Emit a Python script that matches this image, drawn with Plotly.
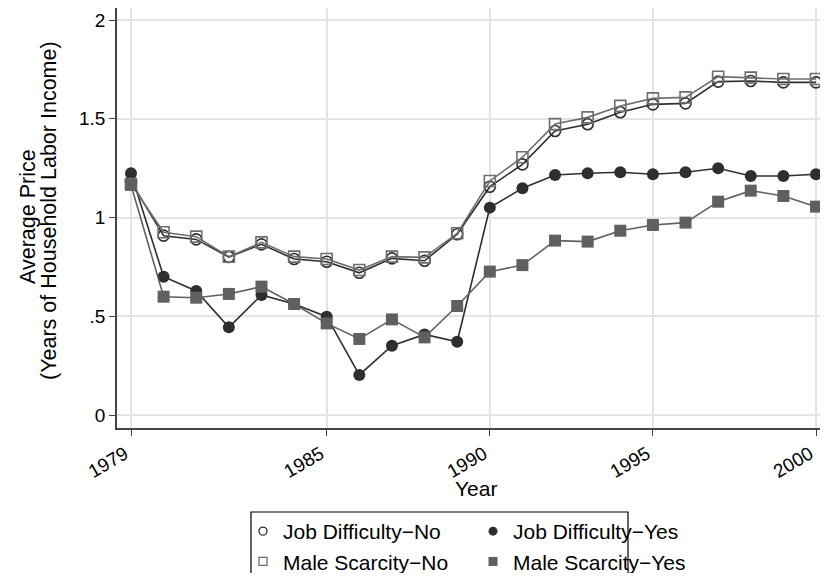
import plotly.graph_objects as go

years = list(range(1979, 2001))
job_no = [1.18, 0.908, 0.889, 0.80, 0.864, 0.79, 0.776, 0.72, 0.793, 0.781, 0.915,
          1.156, 1.269, 1.438, 1.472, 1.533, 1.573, 1.578, 1.688, 1.691, 1.684, 1.684]
job_yes = [1.224, 0.700, 0.628, 0.444, 0.608, 0.562, 0.498, 0.203, 0.351, 0.408, 0.371,
           1.05, 1.148, 1.215, 1.224, 1.229, 1.219, 1.229, 1.249, 1.21, 1.21, 1.219]
male_no = [1.17, 0.925, 0.903, 0.802, 0.874, 0.802, 0.79, 0.734, 0.802, 0.798, 0.92,
           1.185, 1.305, 1.473, 1.507, 1.565, 1.603, 1.608, 1.713, 1.708, 1.701, 1.701]
male_yes = [1.165, 0.599, 0.594, 0.613, 0.650, 0.562, 0.464, 0.385, 0.484, 0.393, 0.552,
            0.726, 0.759, 0.883, 0.878, 0.933, 0.962, 0.974, 1.08, 1.136, 1.109, 1.055]

x_tickvals = [1979, 1985, 1990, 1995, 2000]
y_tickvals = [0, 0.5, 1, 1.5, 2]
y_ticktext = ["0", ".5", "1", "1.5", "2"]

DARK = "#2e2e2e"
GRAY = "#606060"
GRAY_OUT = "#6e6e6e"
FONT = "Liberation Sans, Arial, sans-serif"

# page body adds an 8px offset; plot area spans screen x 117..820, y 8..428
W, H = 812, 565
PL, PR, PT, PB = 117, 820, 8, 428
X_SCALE = (816 - 131) / 21  # px per year


def px(x):
    return (x - PL) / (PR - PL)


def py(y):
    return (PB - y) / (PB - PT)


fig = go.Figure()

fig.add_trace(go.Scatter(x=years, y=job_no, mode="lines+markers", showlegend=False, cliponaxis=False,
                         line=dict(color=DARK, width=1.6),
                         marker=dict(symbol="circle-open", size=11, color=DARK, line=dict(width=1.6, color=DARK))))
fig.add_trace(go.Scatter(x=years, y=job_yes, mode="lines+markers", showlegend=False, cliponaxis=False,
                         line=dict(color=DARK, width=1.6),
                         marker=dict(symbol="circle", size=12, color=DARK)))
fig.add_trace(go.Scatter(x=years, y=male_no, mode="lines+markers", showlegend=False, cliponaxis=False,
                         line=dict(color=GRAY_OUT, width=1.6),
                         marker=dict(symbol="square-open", size=11, color=GRAY_OUT, line=dict(width=1.6, color=GRAY_OUT))))
fig.add_trace(go.Scatter(x=years, y=male_yes, mode="lines+markers", showlegend=False, cliponaxis=False,
                         line=dict(color=GRAY, width=1.6),
                         marker=dict(symbol="square", size=12, color=GRAY)))

# legend entries (markers only, small), two single-column legends
fig.add_trace(go.Scatter(x=[None], y=[None], mode="markers", name="Job Difficulty\u2212No",
                         legend="legend", legendgroup="a",
                         marker=dict(symbol="circle-open", size=8, color=DARK, line=dict(width=1.3, color=DARK))))
fig.add_trace(go.Scatter(x=[None], y=[None], mode="markers", name="Male Scarcity\u2212No",
                         legend="legend", legendgroup="b",
                         marker=dict(symbol="square-open", size=8, color=GRAY_OUT, line=dict(width=1.3, color=GRAY_OUT))))
fig.add_trace(go.Scatter(x=[None], y=[None], mode="markers", name="Job Difficulty\u2212Yes",
                         legend="legend2", legendgroup="c",
                         marker=dict(symbol="circle", size=9, color=DARK)))
fig.add_trace(go.Scatter(x=[None], y=[None], mode="markers", name="Male Scarcity\u2212Yes",
                         legend="legend2", legendgroup="d",
                         marker=dict(symbol="square", size=9, color=GRAY)))

legend_common = dict(orientation="v", xanchor="left", yanchor="top",
                     borderwidth=0, bgcolor="rgba(0,0,0,0)",
                     font=dict(family=FONT, size=21, color="black"),
                     itemsizing="trace", tracegroupgap=0)

fig.update_layout(
    width=W, height=H,
    margin=dict(l=PL - 8, r=W - (PR - 8), t=PT - 8, b=H - (PB - 8), pad=0, autoexpand=False),
    plot_bgcolor="white", paper_bgcolor="white",
    font=dict(family=FONT, size=18, color="black"),
    showlegend=True,
    legend=dict(x=px(243), y=py(511), **legend_common),
    legend2=dict(x=px(473), y=py(511), **legend_common),
    xaxis=dict(range=[1979 - 14 / X_SCALE, 2000 + 4 / X_SCALE], tickvals=x_tickvals, tickangle=-30,
               showgrid=True, gridcolor="#e3e3e3", gridwidth=1.6,
               showline=True, linecolor="#444444", linewidth=1.5,
               ticks="outside", ticklen=6, tickcolor="#444444", tickwidth=1.2,
               tickfont=dict(size=19), zeroline=False, ticklabeloverflow="allow",
               ticklabelshift=-6),
    yaxis=dict(range=[(415 - PB) / 197.5, (415 - PT) / 197.5], tickvals=y_tickvals, ticktext=y_ticktext,
               showgrid=True, gridcolor="#e3e3e3", gridwidth=1.6,
               showline=True, linecolor="#444444", linewidth=1.5,
               ticks="outside", ticklen=6, tickcolor="#444444", tickwidth=1.2,
               tickfont=dict(size=19), zeroline=False),
    shapes=[
        dict(type="rect", xref="paper", yref="paper", x0=px(251), x1=px(628), y0=py(512), y1=py(600),
             line=dict(color="black", width=1.2), fillcolor="rgba(0,0,0,0)", layer="above"),
    ],
    annotations=[
        dict(text="Average Price", textangle=-90,
             xref="paper", yref="paper", x=px(28), y=py(217),
             xanchor="center", yanchor="middle", showarrow=False, font=dict(size=21.5)),
        dict(text="(Years of Household Labor Income)", textangle=-90,
             xref="paper", yref="paper", x=px(49), y=py(211),
             xanchor="center", yanchor="middle", showarrow=False, font=dict(size=21.5)),
        dict(text="Year", xref="paper", yref="paper", x=px(476), y=py(488),
             xanchor="center", yanchor="middle", showarrow=False, font=dict(size=21)),
    ],
)

fig.write_html("out.html")
